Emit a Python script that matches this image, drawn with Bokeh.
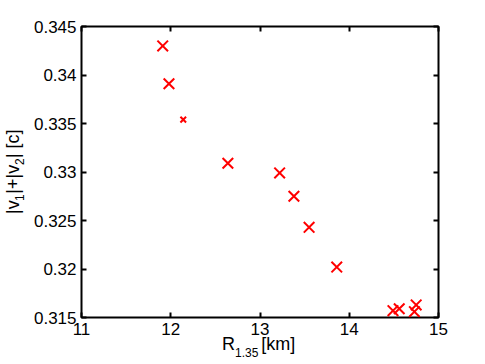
from bokeh.plotting import figure
from bokeh.models import (Range1d, FixedTicker, CustomJSTickFormatter, LinearAxis, Div)
from bokeh.layouts import row, column
from bokeh.embed import file_html
from bokeh.resources import INLINE

# data
radius_km = [11.91, 11.98, 12.64, 13.22, 13.38, 13.55, 13.86, 14.49, 14.56, 14.73, 14.75]
vel_sum_c = [0.3430, 0.3391, 0.3309, 0.3299, 0.3275, 0.3243, 0.3202, 0.3157, 0.3159, 0.3156, 0.3163]
small_radius_km = [12.14]
small_vel_sum_c = [0.3354]
x_ticks = [11, 12, 13, 14, 15]
y_ticks = [0.315, 0.32, 0.325, 0.33, 0.335, 0.34, 0.345]

XMIN, XMAX = 11, 15
YMIN, YMAX = 0.315, 0.345
YL_W = 30
W, H = 447, 341
BL, BR, BT, BB = 50, 39, 26, 24
XL_H = 19

p = figure(width=W, height=H, output_backend="svg", toolbar_location=None,
           x_range=Range1d(XMIN, XMAX), y_range=Range1d(YMIN, YMAX),
           min_border_left=BL, min_border_right=BR, min_border_top=BT, min_border_bottom=BB,
           x_axis_location=None, y_axis_location=None, margin=0)
p.xgrid.visible = False
p.ygrid.visible = False
p.outline_line_color = "black"
p.outline_line_width = 2
p.background_fill_color = "white"
p.border_fill_color = "white"

FONT = "Liberation Sans"
fmt = CustomJSTickFormatter(code="return parseFloat(tick.toFixed(3)).toString();")

def style(ax, ticks, show_labels):
    ax.ticker = FixedTicker(ticks=ticks)
    ax.axis_line_color = None
    ax.major_tick_in = 5
    ax.major_tick_out = 0
    ax.major_tick_line_width = 2
    ax.major_tick_line_color = "black"
    ax.minor_tick_line_color = None
    ax.major_label_text_font = FONT
    ax.major_label_text_font_size = "17px"
    ax.major_label_text_color = "black"
    ax.major_label_standoff = 5
    if not show_labels:
        ax.major_label_text_font_size = "0px"
        ax.major_label_text_color = None

for loc in ["below", "above"]:
    ax = LinearAxis(formatter=fmt)
    style(ax, x_ticks, loc == "below")
    p.add_layout(ax, loc)
for loc in ["left", "right"]:
    ax = LinearAxis(formatter=fmt)
    style(ax, y_ticks, loc == "left")
    p.add_layout(ax, loc)

p.scatter(radius_km, vel_sum_c, marker="x", size=15, line_width=2, line_color="#ff0000")
p.scatter(small_radius_km, small_vel_sum_c, marker="x", size=8, line_width=2, line_color="#ff0000")

# axis titles as HTML text (with real subscripts)
x_title = ('<div style="position:relative; top:-6px; padding-left:192px; white-space:nowrap; '
           'font-family:\'Liberation Sans\'; font-size:18px; line-height:18px; color:black;">'
           'R<span style="font-size:12px; position:relative; top:7px;">1.35</span>'
           '<span style="margin-left:3px;">[km]</span></div>')
y_title = ('<div style="box-sizing:border-box; width:%dpx; height:%dpx; writing-mode:vertical-rl; '
           'transform:rotate(180deg); text-align:center; padding-right:3px; padding-top:16px; '
           'white-space:nowrap; font-family:\'Liberation Sans\'; font-size:18px; line-height:20px; color:black;">'
           '|v<span style="font-size:12px; position:relative; left:-7px;">1</span>|+|v'
           '<span style="font-size:12px; position:relative; left:-7px;">2</span>| [c]</div>') % (YL_W, H + XL_H)

xdiv = Div(text=x_title, width=W, height=XL_H, margin=0)
ydiv = Div(text=y_title, width=YL_W, height=H + XL_H, margin=0)

layout = row(ydiv, column(p, xdiv, spacing=0), spacing=0)
open("out.html", "w").write(file_html(layout, INLINE))
